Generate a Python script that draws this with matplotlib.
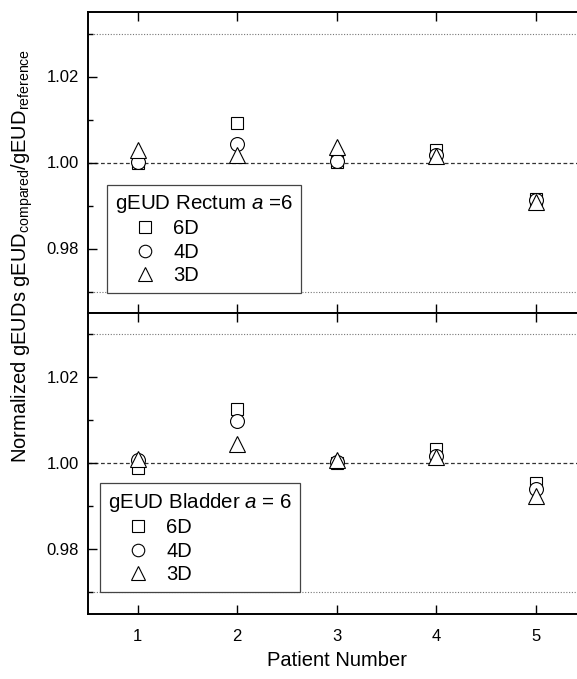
# -*- coding: utf-8 -*-
import matplotlib
matplotlib.use('Agg')
from matplotlib import pyplot as plt
from matplotlib.ticker import MultipleLocator, FormatStrFormatter

plt.rcParams['font.family'] = ['Liberation Sans', 'DejaVu Sans']
plt.rcParams['mathtext.fontset'] = 'custom'
plt.rcParams['mathtext.rm'] = 'Liberation Sans'
plt.rcParams['mathtext.it'] = 'Liberation Sans:italic'

# patient numbers
patients = [1, 2, 3, 4, 5]

# gEUD rectum a=6
rectum_6d = [1.0000, 1.0093, 1.0001, 1.0029, 0.9916]
rectum_4d = [1.0001, 1.0043, 1.0004, 1.0018, 0.9912]
rectum_3d = [1.0028, 1.0018, 1.0036, 1.0016, 0.9908]

# gEUD bladder a=6
bladder_6d = [0.9990, 1.0127, 1.0000, 1.0034, 0.9955]
bladder_4d = [1.0008, 1.0098, 1.0002, 1.0018, 0.9941]
bladder_3d = [1.0011, 1.0044, 1.0008, 1.0015, 0.9923]

series_labels = ['6D', '4D', '3D']
markers = ['s', 'o', '^']
msizes = [9, 10, 11]

fig = plt.figure(figsize=(5.77, 6.79), dpi=100)

W, H = 577.0, 679.0
ax_top = fig.add_axes([88 / W, 1 - 313 / H, (585.6 - 88) / W, (313 - 12) / H])
ax_bot = fig.add_axes([88 / W, 1 - 613.5 / H, (585.6 - 88) / W, (613.5 - 313) / H])

panels = [
    (ax_top, [rectum_6d, rectum_4d, rectum_3d], 'gEUD Rectum $\\it{a}$ =6', (107 / W, 1 - 185 / H)),
    (ax_bot, [bladder_6d, bladder_4d, bladder_3d], 'gEUD Bladder $\\it{a}$ = 6', (100 / W, 1 - 483 / H)),
]

for ax, data, title, anchor in panels:
    # reference lines
    ax.axhline(1.00, color='#333333', lw=0.9, ls=(0, (3, 2)), zorder=1)
    ax.axhline(1.03, color='#777777', lw=0.8, ls=(0, (1, 1.5)), zorder=1)
    ax.axhline(0.97, color='#777777', lw=0.8, ls=(0, (1, 1.5)), zorder=1)

    for vals, m, ms, lab in zip(data, markers, msizes, series_labels):
        ax.plot(patients, vals, ls='none', marker=m, ms=ms, mfc='white',
                mec='black', mew=0.8, label=lab, zorder=3)

    ax.set_xlim(0.5, 5.5)
    ax.set_ylim(0.965, 1.035)
    ax.set_xticks(patients)
    ax.yaxis.set_major_locator(MultipleLocator(0.02))
    ax.yaxis.set_minor_locator(MultipleLocator(0.01))
    ax.yaxis.set_major_formatter(FormatStrFormatter('%.2f'))
    ax.tick_params(axis='both', which='major', direction='in', length=6.2, width=1.0,
                   labelsize=12, top=True, right=True)
    ax.tick_params(axis='y', which='major', pad=6.5)
    ax.tick_params(axis='y', which='minor', direction='in', length=3.3, width=1.0, right=True)
    ax.tick_params(axis='x', which='major', pad=11)
    for sp in ax.spines.values():
        sp.set_linewidth(1.4)

    leg = ax.legend(title=title, loc='upper left', bbox_to_anchor=anchor,
                    bbox_transform=fig.transFigure, borderaxespad=0, fontsize=14.5,
                    title_fontsize=14.8, alignment='left', fancybox=False,
                    edgecolor='#444444', framealpha=1, handlelength=3.0,
                    handletextpad=-0.1, labelspacing=0.22, borderpad=0.4,
                    markerscale=0.9)
    leg.get_frame().set_linewidth(0.9)
    leg.set_zorder(2)

ax_top.tick_params(axis='x', labelbottom=False)
ax_bot.set_xlabel('Patient Number', fontsize=14.5, labelpad=5)

fig.text(22 / W, 1 - 256 / H,
         'Normalized gEUDs gEUD$_{\\mathrm{compared}}$/gEUD$_{\\mathrm{reference}}$',
         rotation=90, ha='center', va='center', fontsize=14.5)

plt.savefig('out.png', dpi=100)
